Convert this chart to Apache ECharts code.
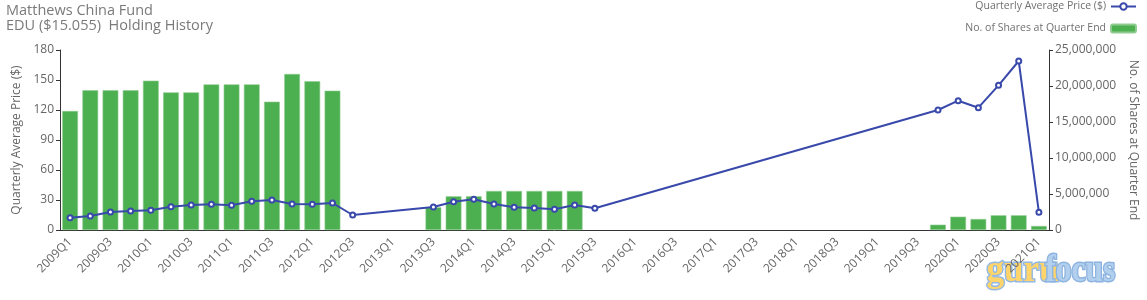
<!DOCTYPE html>
<html>
<head>
<meta charset="utf-8">
<script src="https://cdn.jsdelivr.net/npm/echarts@6/dist/echarts.min.js"></script>
<style>
html,body{margin:0;padding:0;background:#fff;}
#c{width:1147px;height:300px;}
</style>
</head>
<body>
<div id="c"></div>
<script>
var quarters = ["2009Q1","2009Q2","2009Q3","2009Q4","2010Q1","2010Q2","2010Q3","2010Q4",
"2011Q1","2011Q2","2011Q3","2011Q4","2012Q1","2012Q2","2012Q3","2012Q4",
"2013Q1","2013Q2","2013Q3","2013Q4","2014Q1","2014Q2","2014Q3","2014Q4",
"2015Q1","2015Q2","2015Q3","2015Q4","2016Q1","2016Q2","2016Q3","2016Q4",
"2017Q1","2017Q2","2017Q3","2017Q4","2018Q1","2018Q2","2018Q3","2018Q4",
"2019Q1","2019Q2","2019Q3","2019Q4","2020Q1","2020Q2","2020Q3","2020Q4","2021Q1"];

var avgPrice = [12.3,14,18,19,19.7,23.3,25,25.7,
24.7,28.7,30,26,25.7,27,15,null,
null,null,23,28.3,30.7,26,22.7,22,
20.7,25,21.7,null,null,null,null,null,
null,null,null,null,null,null,null,null,
null,null,null,120,129.3,122.3,144.7,169,17.7];

var sharesHeld = [16530000,19400000,19400000,19400000,20740000,19120000,19120000,20230000,
20230000,20230000,17820000,21670000,20650000,19350000,null,null,
null,null,3150000,4680000,4680000,5420000,5420000,5420000,
5420000,5420000,null,null,null,null,null,null,
null,null,null,null,null,null,null,null,
null,null,null,740000,1850000,1530000,2040000,2040000,560000];

var priceTicks = {min:0, max:180, interval:30};
var shareTicks = {min:0, max:25000000, interval:5000000};

var titleLines = ["Matthews China Fund", "EDU ($15.055)  Holding History"];
var seriesNames = ["Quarterly Average Price ($)", "No. of Shares at Quarter End"];

var FONT = "Open Sans";
var chart = echarts.init(document.getElementById('c'));
chart.setOption({
  animation:false,
  textStyle:{fontFamily:FONT},
  title:{
    text: titleLines.join("\n"),
    left:6, top:3, padding:0,
    textStyle:{fontFamily:FONT, fontSize:14.5, fontWeight:'normal', color:'#7a7a7a', lineHeight:15}
  },
  legend:{
    orient:'vertical', right:10, top:1, padding:0, align:'right',
    itemWidth:25, itemHeight:8, itemGap:11,
    textStyle:{fontFamily:FONT, fontSize:10.5, color:'#707070'},
    data:[
      {name:seriesNames[0]},
      {name:seriesNames[1], icon:'roundRect'}
    ]
  },
  grid:{left:60, right:97, top:50, bottom:70},
  xAxis:{
    type:'category', data:quarters, boundaryGap:true,
    axisLine:{lineStyle:{color:'#333'}},
    axisTick:{alignWithLabel:true, interval:function(i){return i%2===1;}, length:5, lineStyle:{color:'#333'}},
    axisLabel:{interval:1, rotate:45, fontSize:12, color:'#666', fontFamily:FONT, margin:10}
  },
  yAxis:[
    {type:'value', min:priceTicks.min, max:priceTicks.max, interval:priceTicks.interval,
     name:seriesNames[0], nameLocation:'middle', nameGap:35, nameRotate:90,
     nameTextStyle:{fontSize:12, color:'#666', fontFamily:FONT},
     axisLine:{show:true, lineStyle:{color:'#333'}},
     axisTick:{show:true, length:4, lineStyle:{color:'#333'}},
     axisLabel:{fontSize:12, color:'#666', fontFamily:FONT, margin:6},
     splitLine:{show:false}},
    {type:'value', min:shareTicks.min, max:shareTicks.max, interval:shareTicks.interval,
     name:seriesNames[1], nameLocation:'middle', nameGap:70, nameRotate:-90,
     nameTextStyle:{fontSize:12, color:'#666', fontFamily:FONT},
     axisLine:{show:true, lineStyle:{color:'#333'}},
     axisTick:{show:true, length:4, lineStyle:{color:'#333'}},
     axisLabel:{fontSize:12, color:'#666', fontFamily:FONT, margin:6,
       formatter:function(v){return v.toString().replace(/\B(?=(\d{3})+(?!\d))/g, ",");}},
     splitLine:{show:false}}
  ],
  series:[
    {name:seriesNames[1], type:'bar', yAxisIndex:1, data:sharesHeld,
     barCategoryGap:'22%',
     itemStyle:{color:'#4CAF50', borderColor:'#8FCB91', borderWidth:0.6}, z:1},
    {name:seriesNames[0], type:'line', yAxisIndex:0, data:avgPrice, connectNulls:true,
     symbol:'emptyCircle', symbolSize:5, showAllSymbol:true,
     lineStyle:{color:'#3949AB', width:2}, itemStyle:{color:'#3949AB', borderWidth:1.2}, z:3}
  ],
  graphic:[
    {type:'text', left:985, top:251, z:-1, silent:true, scaleX:0.95,
     style:{text:'guru', fontFamily:'Liberation Sans Narrow', fontSize:37, fontWeight:'bold',
       fill:'#FFD46A', stroke:'#93B9E4', lineWidth:3}},
    {type:'text', left:1044, top:251, z:-1, silent:true, scaleX:0.85,
     style:{text:'focus', fontFamily:'Liberation Sans Narrow', fontSize:37, fontWeight:'bold',
       fill:'#B2CFEE', stroke:'#8DB4E0', lineWidth:3}}
  ]
});
</script>
</body>
</html>
